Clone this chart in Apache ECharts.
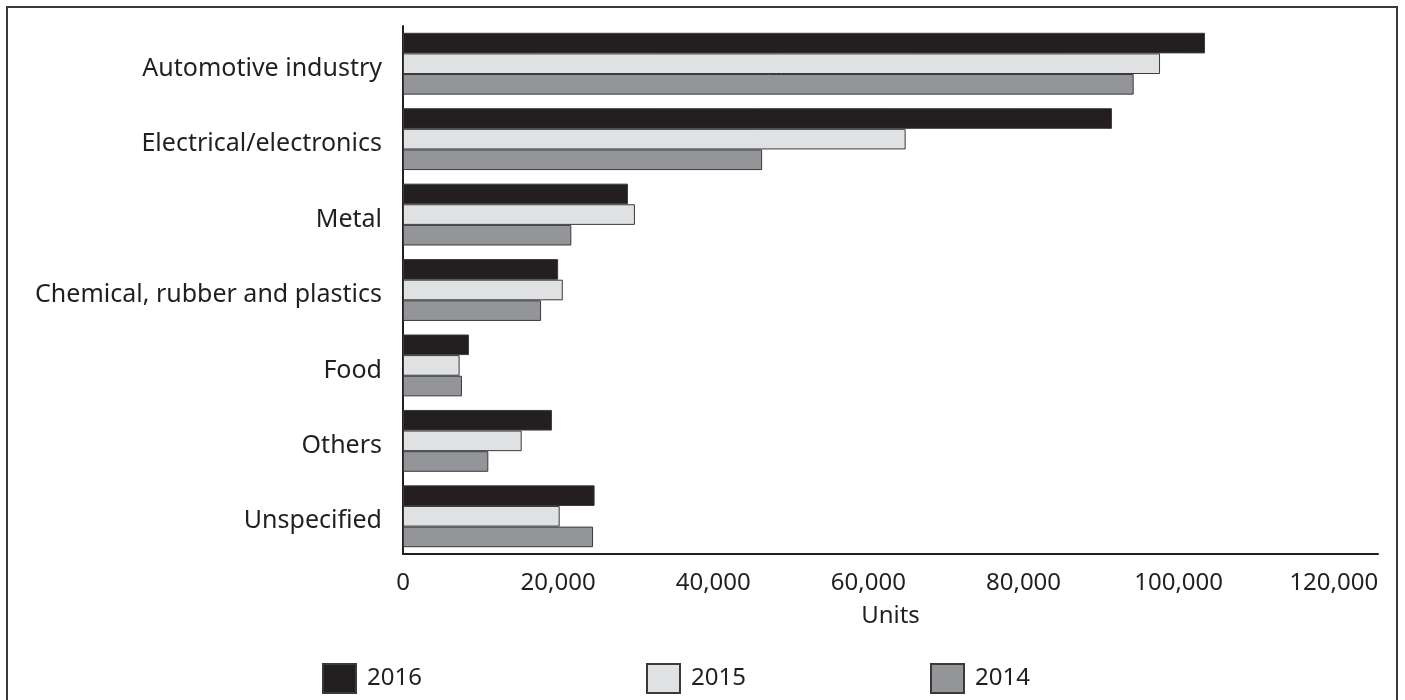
<!DOCTYPE html>
<html><head><meta charset="utf-8">
<script src="https://cdn.jsdelivr.net/npm/echarts@6/dist/echarts.min.js"></script>
<style>html,body{margin:0;padding:0;background:#fff}#c{width:1405px;height:700px}</style>
</head><body><div id="c"></div>
<script>
const categories = ["Automotive industry","Electrical/electronics","Metal","Chemical, rubber and plastics","Food","Others","Unspecified"];
const years = ["2016","2015","2014"];
const v2016 = [103400, 91400, 29000, 20000, 8500, 19200, 24700];
const v2015 = [97600, 64800, 29900, 20600, 7300, 15300, 20200];
const v2014 = [94200, 46300, 21700, 17800, 7600, 11000, 24500];
const tickValues = [0, 20000, 40000, 60000, 80000, 100000, 120000];

const colors = ["#231f20", "#e0e1e3", "#939598"];
const font = "'Noto Sans', sans-serif";
const chart = echarts.init(document.getElementById('c'), null, {renderer:'canvas'});
const vals = [v2016, v2015, v2014];
const legendLeft = [317, 641, 925];
chart.setOption({
  animation: false,
  textStyle: {fontFamily: font},
  graphic: [{type:'rect', shape:{x:7,y:7,width:1390,height:700}, style:{fill:'none', stroke:'#3a3a3a', lineWidth:2}}],
  legend: years.map((y,i)=>({
    data:[y], left: legendLeft[i], top: 658, itemWidth: 33, itemHeight: 29, itemGap: 10,
    textStyle:{fontSize: 24, color:'#231f20', fontFamily: font, padding:[0,0,0,6]}, icon:'rect'
  })),
  grid: {left: 403, right: 27, top: 26, bottom: 146, containLabel: false},
  xAxis: {
    type: 'value', min: 0, max: 125700, interval: 20000,
    axisLine: {show: true, lineStyle: {color: '#231f20', width: 2}},
    axisTick: {show: false}, splitLine: {show: false},
    axisLabel: {showMaxLabel: false, fontSize: 24, color: '#231f20', margin: 17,
      formatter: v => tickValues.includes(v) ? v.toLocaleString('en-US') : ''},
    name: 'Units', nameLocation: 'middle', nameGap: 50,
    nameTextStyle: {fontSize: 24, color: '#231f20'}
  },
  yAxis: {
    type: 'category', inverse: true, data: categories,
    axisLine: {show: true, lineStyle: {color: '#231f20', width: 2}},
    axisTick: {show: false},
    axisLabel: {color: '#231f20', margin: 21,
      formatter: v => '{a|' + v + '}',
      rich: {a: {fontSize: 25, color: '#231f20', fontFamily: font, padding: [10,0,0,0]}}}
  },
  series: years.map((y,i)=>({
    name: y, type: 'bar', data: vals[i], barGap: '0%', barCategoryGap: '18%',
    itemStyle: {color: colors[i], borderColor: '#3a3a3a', borderWidth: 1}
  }))
});
</script></body></html>
